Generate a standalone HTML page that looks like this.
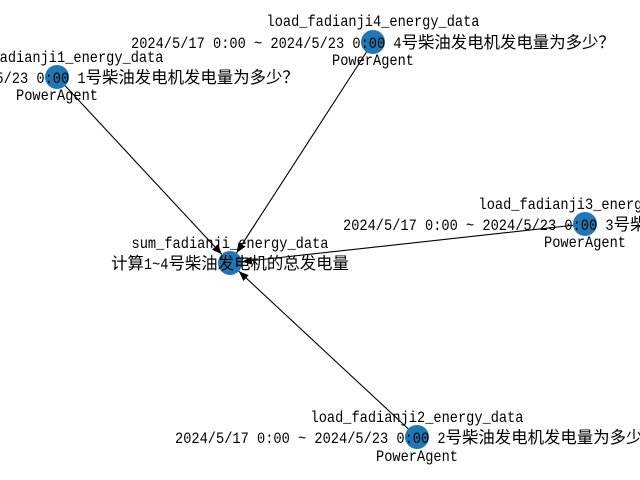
<!DOCTYPE html>
<html><head><meta charset="utf-8"><style>
html,body{margin:0;padding:0;background:#fff;}
svg{display:block;}
text{font-family:"Liberation Mono","WenQuanYi Zen Hei","Noto Sans CJK SC",monospace;font-size:16px;fill:#000;}
text.c{font-family:"WenQuanYi Zen Hei","Noto Sans CJK SC",sans-serif;font-size:16.4px;}
</style></head><body>
<svg width="640" height="480" viewBox="0 0 640 480" xmlns="http://www.w3.org/2000/svg">
<defs>
<marker id="a" markerWidth="10" markerHeight="8" refX="10" refY="4" orient="auto" markerUnits="userSpaceOnUse">
<path d="M0,0 L10,4 L0,8 Z" fill="#000"/>
</marker>
</defs>
<g stroke="#000" stroke-width="1.1" marker-end="url(#a)">
<line x1="57" y1="77" x2="221.8" y2="254.2"/>
<line x1="373" y1="42" x2="236.5" y2="252.9"/>
<line x1="585" y1="224" x2="241.9" y2="261.7"/>
<line x1="417" y1="437" x2="238.8" y2="271.2"/>
</g>
<g fill="#1f77b4">
<circle cx="57" cy="77" r="12"/>
<circle cx="373" cy="42" r="12"/>
<circle cx="230" cy="263" r="12"/>
<circle cx="585" cy="224" r="12"/>
<circle cx="417" cy="437" r="12"/>
</g>
<g text-anchor="middle">
<text x="57" y="62" textLength="213" lengthAdjust="spacingAndGlyphs">load_fadianji1_energy_data</text>
<text x="57" y="100" textLength="82" lengthAdjust="spacingAndGlyphs">PowerAgent</text>
<text x="373" y="26" textLength="213" lengthAdjust="spacingAndGlyphs">load_fadianji4_energy_data</text>
<text x="373" y="65" textLength="82" lengthAdjust="spacingAndGlyphs">PowerAgent</text>
<text x="230" y="248" textLength="197" lengthAdjust="spacingAndGlyphs">sum_fadianji_energy_data</text>
<text x="585" y="209" textLength="213" lengthAdjust="spacingAndGlyphs">load_fadianji3_energy_data</text>
<text x="585" y="247" textLength="82" lengthAdjust="spacingAndGlyphs">PowerAgent</text>
<text x="417" y="422" textLength="213" lengthAdjust="spacingAndGlyphs">load_fadianji2_energy_data</text>
<text x="417" y="461" textLength="82" lengthAdjust="spacingAndGlyphs">PowerAgent</text>
</g>
<g text-anchor="start">
<text x="-185" y="83" textLength="270.6" lengthAdjust="spacingAndGlyphs">2024/5/17 0:00 ~ 2024/5/23 0:00 1</text>
<text class="c" x="85.6" y="83" textLength="213.2" lengthAdjust="spacingAndGlyphs">号柴油发电机发电量为多少？</text>

<text x="131" y="48" textLength="270.6" lengthAdjust="spacingAndGlyphs">2024/5/17 0:00 ~ 2024/5/23 0:00 4</text>
<text class="c" x="401.6" y="48" textLength="213.2" lengthAdjust="spacingAndGlyphs">号柴油发电机发电量为多少？</text>

<text x="343" y="230" textLength="270.6" lengthAdjust="spacingAndGlyphs">2024/5/17 0:00 ~ 2024/5/23 0:00 3</text>
<text class="c" x="613.6" y="230" textLength="213.2" lengthAdjust="spacingAndGlyphs">号柴油发电机发电量为多少？</text>

<text x="175" y="443" textLength="270.6" lengthAdjust="spacingAndGlyphs">2024/5/17 0:00 ~ 2024/5/23 0:00 2</text>
<text class="c" x="445.6" y="443" textLength="213.2" lengthAdjust="spacingAndGlyphs">号柴油发电机发电量为多少？</text>

<text class="c" x="111.1" y="269" textLength="32.8" lengthAdjust="spacingAndGlyphs">计算</text>
<text x="143.9" y="269" textLength="24.6" lengthAdjust="spacingAndGlyphs">1~4</text>
<text class="c" x="168.5" y="269" textLength="180.4" lengthAdjust="spacingAndGlyphs">号柴油发电机的总发电量</text>
</g>
</svg>
</body></html>
